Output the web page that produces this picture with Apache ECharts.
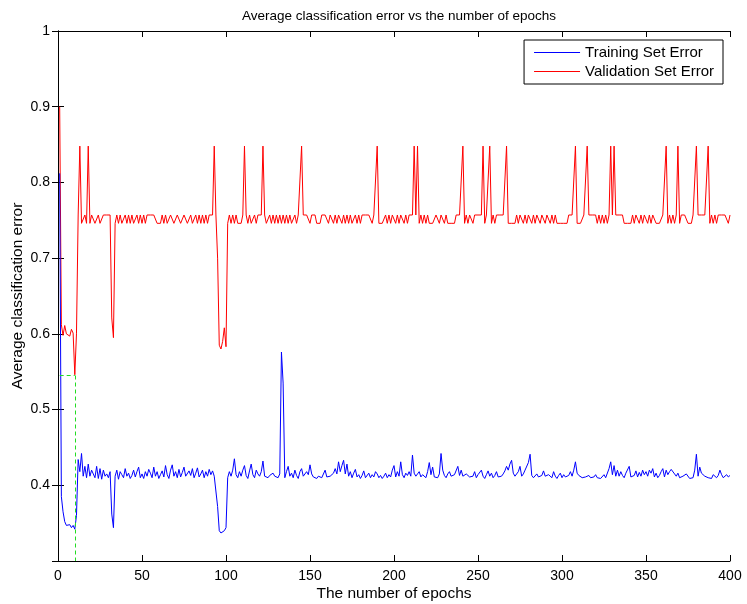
<!DOCTYPE html>
<html><head><meta charset="utf-8">
<script src="https://cdn.jsdelivr.net/npm/echarts@6/dist/echarts.min.js"></script>
<style>html,body{margin:0;padding:0;background:#fff}#c{width:747px;height:604px}</style>
</head><body><div id="c"></div>
<script>
// Average classification error per epoch (epochs 1..400)
const trainA = [0.812,0.385,0.365,0.352,0.347,0.345,0.348,0.344,0.347,0.342,
0.360,0.434,0.418,0.442,0.412,0.425,0.410,0.428,0.412,0.420,
0.418,0.410,0.425,0.409,0.422,0.408,0.420,0.412,0.415,0.410,
0.418,0.362,0.344,0.412,0.420,0.408,0.418,0.414,0.410,0.422,
0.412,0.416,0.409,0.413,0.420,0.411,0.418,0.424,0.410,0.415,
0.409,0.418,0.412,0.421,0.416,0.410,0.424,0.412,0.418,0.409,
0.414,0.419,0.411,0.426,0.414,0.409,0.420,0.427,0.412,0.418,
0.410,0.421,0.411,0.417,0.424,0.412,0.410,0.419,0.413,0.422,
0.410,0.416,0.423,0.411,0.415,0.420,0.410,0.418,0.412,0.421,
0.414,0.419,0.412,0.410,0.372,0.340,0.337,0.338,0.340,0.344];
const trainB = [0.410,0.418,0.412,0.420,0.435,0.414,0.410,0.418,0.412,0.420,
0.426,0.413,0.409,0.419,0.428,0.414,0.410,0.420,0.415,0.412,
0.418,0.432,0.412,0.414,0.410,0.413,0.411,0.416,0.412,0.414,
0.410,0.415,0.576,0.535,0.410,0.418,0.425,0.412,0.416,0.410,
0.420,0.413,0.409,0.418,0.422,0.412,0.410,0.418,0.414,0.427,
0.415,0.411,0.413,0.409,0.412,0.411,0.410,0.412,0.420,0.411,
0.409,0.412,0.414,0.416,0.422,0.415,0.431,0.418,0.426,0.433,
0.415,0.428,0.412,0.418,0.410,0.416,0.421,0.411,0.414,0.409,
0.413,0.419,0.410,0.412,0.416,0.410,0.414,0.411,0.418,0.415,
0.410,0.413,0.409,0.412,0.416,0.410,0.414,0.411,0.420,0.426];
const trainC = [0.411,0.418,0.412,0.431,0.414,0.410,0.416,0.413,0.418,0.412,
0.440,0.416,0.412,0.415,0.418,0.411,0.414,0.412,0.410,0.418,
0.430,0.414,0.424,0.411,0.413,0.410,0.415,0.442,0.420,0.413,
0.410,0.415,0.418,0.412,0.411,0.414,0.416,0.425,0.413,0.420,
0.412,0.410,0.415,0.413,0.411,0.409,0.412,0.418,0.410,0.414,
0.416,0.420,0.412,0.409,0.414,0.419,0.412,0.416,0.410,0.413,
0.418,0.411,0.409,0.412,0.415,0.419,0.425,0.420,0.428,0.433,
0.416,0.412,0.410,0.418,0.425,0.412,0.415,0.420,0.422,0.430,
0.441,0.413,0.410,0.412,0.415,0.411,0.409,0.413,0.419,0.412,
0.410,0.414,0.416,0.410,0.418,0.412,0.409,0.413,0.416,0.410];
const trainD = [0.414,0.411,0.409,0.413,0.418,0.412,0.420,0.431,0.416,0.413,
0.414,0.410,0.412,0.411,0.409,0.413,0.410,0.412,0.411,0.414,
0.410,0.412,0.409,0.411,0.414,0.410,0.412,0.422,0.431,0.414,
0.426,0.412,0.420,0.412,0.418,0.413,0.410,0.416,0.418,0.425,
0.411,0.409,0.413,0.419,0.411,0.417,0.412,0.420,0.414,0.418,
0.412,0.420,0.416,0.422,0.411,0.416,0.410,0.413,0.418,0.422,
0.411,0.420,0.414,0.418,0.421,0.419,0.415,0.412,0.416,0.410,
0.409,0.412,0.410,0.415,0.413,0.409,0.408,0.410,0.420,0.441,
0.412,0.424,0.416,0.418,0.412,0.414,0.410,0.412,0.409,0.414,
0.412,0.410,0.413,0.420,0.414,0.410,0.412,0.414,0.411,0.413];

const validA = [0.900,0.612,0.598,0.611,0.600,0.602,0.597,0.606,0.601,0.546,
0.600,0.757,0.848,0.746,0.746,0.757,0.746,0.848,0.746,0.757,
0.757,0.746,0.746,0.757,0.746,0.746,0.757,0.757,0.757,0.757,
0.757,0.621,0.595,0.746,0.757,0.746,0.757,0.746,0.746,0.757,
0.746,0.757,0.746,0.757,0.746,0.746,0.757,0.746,0.757,0.746,
0.757,0.746,0.757,0.757,0.757,0.757,0.757,0.757,0.746,0.746,
0.746,0.757,0.746,0.757,0.746,0.746,0.757,0.757,0.746,0.746,
0.757,0.757,0.746,0.746,0.757,0.757,0.746,0.746,0.757,0.746,
0.746,0.757,0.746,0.757,0.746,0.757,0.746,0.757,0.746,0.757,
0.757,0.757,0.848,0.757,0.700,0.585,0.580,0.590,0.608,0.583];
const validB = [0.746,0.757,0.746,0.757,0.746,0.757,0.746,0.746,0.746,0.757,
0.848,0.757,0.746,0.757,0.746,0.746,0.757,0.746,0.757,0.757,
0.757,0.848,0.757,0.746,0.746,0.757,0.746,0.757,0.746,0.757,
0.746,0.757,0.746,0.757,0.746,0.757,0.746,0.757,0.746,0.746,
0.757,0.746,0.757,0.757,0.848,0.757,0.757,0.757,0.757,0.746,
0.757,0.757,0.757,0.746,0.746,0.746,0.757,0.757,0.757,0.757,
0.746,0.757,0.757,0.746,0.757,0.746,0.757,0.757,0.746,0.757,
0.746,0.757,0.746,0.757,0.746,0.746,0.757,0.746,0.757,0.746,
0.757,0.757,0.757,0.757,0.757,0.757,0.746,0.757,0.757,0.848,
0.746,0.746,0.746,0.746,0.757,0.746,0.757,0.746,0.757,0.757];
const validC = [0.746,0.757,0.746,0.757,0.757,0.746,0.757,0.746,0.757,0.757,
0.757,0.848,0.757,0.848,0.746,0.757,0.746,0.757,0.746,0.757,
0.746,0.746,0.746,0.746,0.757,0.757,0.746,0.757,0.757,0.746,
0.757,0.746,0.746,0.746,0.746,0.746,0.757,0.757,0.757,0.757,
0.848,0.746,0.757,0.746,0.757,0.757,0.746,0.757,0.757,0.757,
0.757,0.757,0.848,0.746,0.757,0.757,0.848,0.746,0.757,0.746,
0.757,0.757,0.757,0.757,0.757,0.757,0.848,0.746,0.746,0.746,
0.746,0.746,0.757,0.746,0.757,0.757,0.746,0.757,0.746,0.757,
0.757,0.746,0.757,0.746,0.757,0.757,0.746,0.757,0.757,0.746,
0.757,0.757,0.746,0.757,0.746,0.757,0.746,0.746,0.746,0.746];
const validD = [0.746,0.746,0.746,0.757,0.757,0.757,0.757,0.848,0.746,0.746,
0.746,0.746,0.757,0.757,0.848,0.757,0.757,0.757,0.757,0.757,
0.746,0.757,0.746,0.757,0.746,0.757,0.746,0.757,0.848,0.757,
0.848,0.757,0.757,0.757,0.757,0.757,0.746,0.746,0.746,0.746,
0.746,0.757,0.746,0.757,0.757,0.746,0.757,0.746,0.757,0.757,
0.746,0.757,0.746,0.757,0.757,0.746,0.746,0.746,0.746,0.757,
0.757,0.848,0.746,0.757,0.746,0.757,0.746,0.757,0.848,0.746,
0.757,0.757,0.757,0.757,0.746,0.746,0.746,0.757,0.757,0.848,
0.757,0.757,0.757,0.757,0.757,0.757,0.848,0.746,0.757,0.746,
0.757,0.746,0.757,0.757,0.757,0.757,0.757,0.757,0.746,0.757];

const bestEpoch = 10;
const bestError = 0.545;
const xTicks = [0, 50, 100, 150, 200, 250, 300, 350, 400];
const yTicks = [0.4, 0.5, 0.6, 0.7, 0.8, 0.9, 1];

const training = trainA.concat(trainB, trainC, trainD);
const validation = validA.concat(validB, validC, validD);
const trainPts = training.map((v, i) => [i + 1, v]);
const validPts = validation.map((v, i) => [i + 1, v]);

const FONT = 'Liberation Sans, Arial, sans-serif';
const chart = echarts.init(document.getElementById('c'), null, {renderer: 'canvas'});

const axisCommon = {
  axisLine: {show: true, lineStyle: {color: '#000', width: 1}},
  axisTick: {show: true, inside: true, length: 6, lineStyle: {color: '#000'}},
  splitLine: {show: false}
};

chart.setOption({
  animation: false,
  backgroundColor: '#fff',
  title: {
    text: 'Average classification error vs the number of epochs',
    left: 394, top: 4, textAlign: 'center',
    textStyle: {fontFamily: FONT, fontSize: 13.5, fontWeight: 'normal', color: '#000'}
  },
  legend: {
    orient: 'vertical', right: 24, top: 40,
    backgroundColor: '#fff', borderColor: '#000', borderWidth: 1,
    padding: [5, 9, 5, 10], itemGap: 4, itemWidth: 46, itemHeight: 1,
    icon: 'rect',
    textStyle: {fontFamily: FONT, fontSize: 15, color: '#000', lineHeight: 15},
    data: ['Training Set Error', 'Validation Set Error']
  },
  grid: {left: 58, right: 17, top: 31, bottom: 43, containLabel: false, outerBoundsMode: 'none'},
  xAxis: [
    Object.assign({
      type: 'value', min: xTicks[0], max: xTicks[xTicks.length - 1], interval: 50,
      name: 'The number of epochs', nameLocation: 'middle', nameGap: 25, nameMoveOverlap: false,
      nameTextStyle: {fontFamily: FONT, fontSize: 15.5, color: '#000'},
      axisLabel: {fontFamily: FONT, fontSize: 14, color: '#000', margin: 8}
    }, axisCommon),
    Object.assign({
      type: 'value', position: 'top', min: xTicks[0], max: xTicks[xTicks.length - 1], interval: 50,
      axisLabel: {show: false}
    }, axisCommon)
  ],
  yAxis: [
    Object.assign({
      type: 'value', min: 0.3, max: yTicks[yTicks.length - 1], interval: 0.1,
      name: 'Average classification error', nameLocation: 'middle', nameGap: 32, nameMoveOverlap: false,
      nameTextStyle: {fontFamily: FONT, fontSize: 15.5, color: '#000'},
      axisLabel: {fontFamily: FONT, fontSize: 14, color: '#000', margin: 8,
        formatter: v => (v < yTicks[0] - 0.05 ? '' : (v >= 0.999 ? '1' : v.toFixed(1)))}
    }, axisCommon),
    Object.assign({
      type: 'value', position: 'right', min: 0.3, max: yTicks[yTicks.length - 1], interval: 0.1,
      axisLabel: {show: false}
    }, axisCommon)
  ],
  series: [
    {
      name: 'Training Set Error', type: 'line', data: trainPts,
      symbol: 'none', color: '#0000ff',
      lineStyle: {color: '#0000ff', width: 1}, z: 3
    },
    {
      name: 'Validation Set Error', type: 'line', data: validPts,
      symbol: 'none', color: '#ff0000',
      lineStyle: {color: '#ff0000', width: 1}, z: 2,
      markLine: {
        silent: true, symbol: ['none', 'none'], animation: false,
        label: {show: false},
        lineStyle: {color: '#22dd22', type: [4, 3], width: 1},
        data: [
          [{coord: [1, bestError]}, {coord: [bestEpoch, bestError]}],
          [{coord: [bestEpoch, bestError]}, {coord: [bestEpoch, 0.3]}]
        ]
      }
    }
  ]
});
</script>
</body></html>
